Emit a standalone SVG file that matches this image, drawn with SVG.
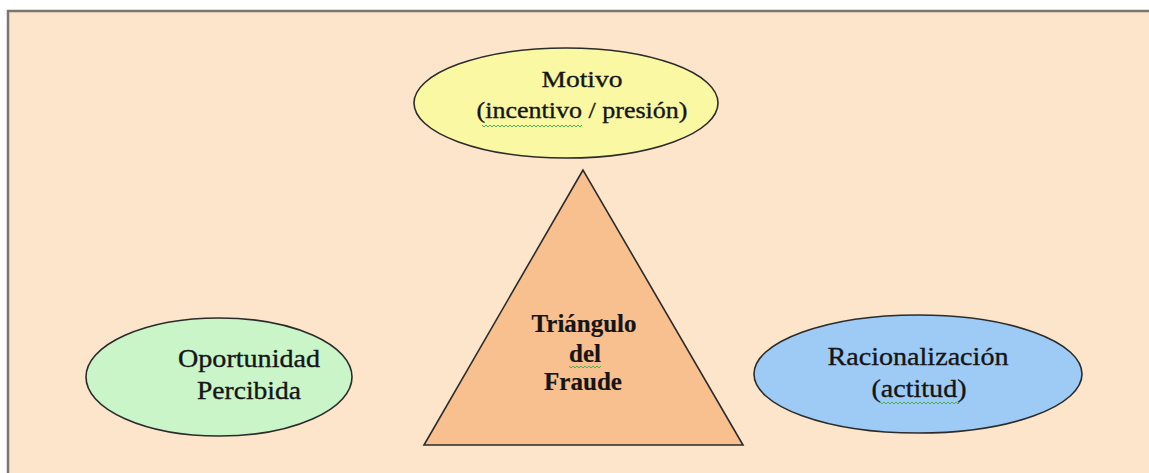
<svg xmlns="http://www.w3.org/2000/svg" width="1149" height="473" viewBox="0 0 1149 473">
<defs>
<style>
.shape{stroke:#2b2b2b;stroke-width:1.6}
.t{font-family:"Liberation Serif","Times New Roman",serif;fill:#151515;stroke:#151515;stroke-width:0.35;text-anchor:middle}
.b{font-weight:bold;stroke-width:0.2}
.wave{fill:none;stroke:#4caf50;stroke-width:1}
</style>
</defs>
<rect x="0" y="0" width="1149" height="473" fill="#ffffff"/>
<rect x="8" y="11" width="1141" height="462" fill="#fde5cb"/>
<path d="M8,473 V11 H1149" fill="none" stroke="#7a7672" stroke-width="2.5"/>
<g id="motivo">
<ellipse class="shape" cx="566" cy="103" rx="152" ry="55" fill="#faf8a2"/>
<text class="t" x="582" y="87" font-size="24" textLength="81" lengthAdjust="spacingAndGlyphs">Motivo</text>
<text class="t" x="582" y="118" font-size="24" textLength="211" lengthAdjust="spacingAndGlyphs">(incentivo / presión)</text>
<path class="wave" d="M482,125 l2,2 l2,-2 l2,2 l2,-2 l2,2 l2,-2 l2,2 l2,-2 l2,2 l2,-2 l2,2 l2,-2 l2,2 l2,-2 l2,2 l2,-2 l2,2 l2,-2 l2,2 l2,-2 l2,2 l2,-2 l2,2 l2,-2 l2,2 l2,-2 l2,2 l2,-2 l2,2 l2,-2 l2,2 l2,-2 l2,2 l2,-2 l2,2 l2,-2 l2,2 l2,-2 l2,2 l2,-2 l2,2 l2,-2 l2,2 l2,-2 l2,2 l2,-2 l2,2 l2,-2 l2,2 l2,-2"/>
</g>
<g id="triangulo">
<polygon class="shape" points="583,170 424,445 743,445" fill="#f8c08f"/>
<text class="t b" x="584" y="332" font-size="25" textLength="105" lengthAdjust="spacingAndGlyphs">Triángulo</text>
<text class="t b" x="585" y="362" font-size="25" textLength="32" lengthAdjust="spacingAndGlyphs">del</text>
<text class="t b" x="583" y="390" font-size="25" textLength="78" lengthAdjust="spacingAndGlyphs">Fraude</text>
<path class="wave" d="M569,366 l2,2 l2,-2 l2,2 l2,-2 l2,2 l2,-2 l2,2 l2,-2 l2,2 l2,-2 l2,2 l2,-2 l2,2 l2,-2 l2,2 l2,-2"/>
</g>
<g id="oportunidad">
<ellipse class="shape" cx="219" cy="377" rx="133" ry="59" fill="#c9f5c9"/>
<text class="t" x="249" y="367" font-size="25" textLength="142" lengthAdjust="spacingAndGlyphs">Oportunidad</text>
<text class="t" x="249" y="399" font-size="25" textLength="104" lengthAdjust="spacingAndGlyphs">Percibida</text>
</g>
<g id="racionalizacion">
<ellipse class="shape" cx="918" cy="374" rx="164" ry="59" fill="#9ecbf5"/>
<text class="t" x="918" y="365" font-size="25" textLength="181" lengthAdjust="spacingAndGlyphs">Racionalización</text>
<text class="t" x="919" y="397" font-size="25" textLength="95" lengthAdjust="spacingAndGlyphs">(actitud)</text>
<path class="wave" d="M880,402 l2,2 l2,-2 l2,2 l2,-2 l2,2 l2,-2 l2,2 l2,-2 l2,2 l2,-2 l2,2 l2,-2 l2,2 l2,-2 l2,2 l2,-2 l2,2 l2,-2 l2,2 l2,-2 l2,2 l2,-2 l2,2 l2,-2 l2,2 l2,-2 l2,2 l2,-2 l2,2 l2,-2 l2,2 l2,-2 l2,2 l2,-2 l2,2 l2,-2 l2,2 l2,-2 l2,2 l2,-2"/>
</g>
<g id="connectors"></g>
</svg>
